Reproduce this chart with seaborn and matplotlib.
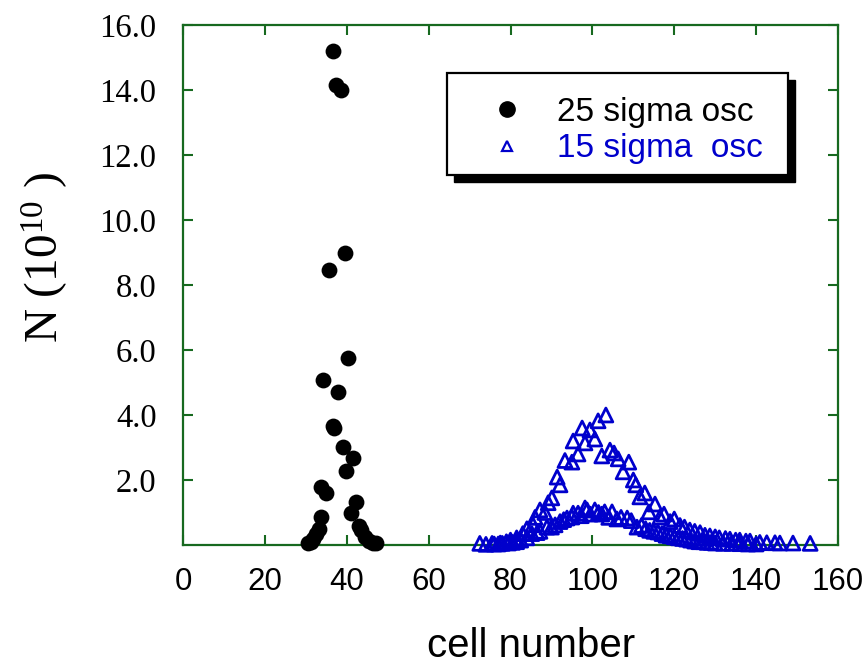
import matplotlib
matplotlib.use("Agg")
import matplotlib.pyplot as plt
import seaborn as sns
import pandas as pd
from matplotlib.lines import Line2D
from matplotlib.patches import Rectangle

# ---- data ----
cell_25 = [30.5, 31.2, 31.8, 32.5, 33.2, 33.7, 33.7, 34.9, 34.2, 35.7, 36.6, 37.4,
           38.6, 39.6, 40.3, 37.9, 36.6, 36.9, 39.1, 41.5, 39.8, 42.3, 41.0, 43.0,
           43.5, 44.5, 45.5, 46.5, 47.2]
n_25 = [0.05, 0.1, 0.2, 0.35, 0.5, 0.86, 1.78, 1.6, 5.08, 8.46, 15.2, 14.15,
        14.0, 8.98, 5.75, 4.71, 3.65, 3.6, 3.02, 2.68, 2.28, 1.32, 0.98, 0.6,
        0.45, 0.25, 0.12, 0.06, 0.05]

# upper branch of the 15 sigma data
cell_15a = [72.5, 75.5, 77.5, 79.0, 80.0, 81.5, 83.0, 84.0, 85.5, 86.0, 87.2, 88.4,
            89.2, 90.1, 91.4, 92.1, 93.3, 95.0, 95.3, 96.5, 97.5, 98.2, 99.4, 100.6,
            101.4, 102.3, 103.3, 104.3, 105.3, 106.3, 107.5, 108.9, 110.0, 110.6,
            111.6, 112.8, 113.8, 115.3, 116.5, 117.5, 119.0, 120.0, 121.4, 122.5,
            123.8, 125.0, 126.3, 127.5, 128.7, 130.0, 131.0, 132.5, 133.6, 135.0,
            136.0, 137.5, 138.5, 140.9, 142.6, 144.6, 145.8, 149.0, 153.2]
n_15a = [0.05, 0.05, 0.06, 0.1, 0.15, 0.22, 0.35, 0.5, 0.62, 0.85, 1.08, 1.0,
         1.3, 1.45, 2.09, 1.85, 2.6, 2.55, 3.2, 2.8, 3.6, 3.14, 3.54, 3.26,
         3.82, 2.74, 4.0, 2.92, 2.83, 2.65, 2.25, 2.55, 2.0, 1.85,
         1.48, 1.6, 1.02, 1.26, 0.86, 0.95, 0.72, 0.8, 0.6, 0.55,
         0.46, 0.42, 0.38, 0.3, 0.28, 0.25, 0.22, 0.2, 0.18, 0.15,
         0.15, 0.12, 0.12, 0.08, 0.07, 0.07, 0.06, 0.06, 0.05]

# lower branch of the 15 sigma data
cell_15b = [74.0, 76.0, 77.0, 78.0, 79.5, 80.5, 81.5, 82.5, 84.0, 85.2, 86.5, 87.2,
            88.9, 90.0, 90.9, 92.1, 93.0, 93.8, 95.0, 95.3, 96.5, 97.3, 98.2, 98.7,
            99.5, 100.6, 101.5, 102.3, 103.0, 104.0, 104.8, 106.0, 107.0, 108.5,
            109.5, 110.9, 112.0, 113.0, 114.0, 115.0, 116.0, 117.0, 118.0, 119.0,
            120.0, 121.0, 122.0, 123.0, 124.0, 125.0, 126.0, 127.0, 128.0, 129.0,
            130.0, 132.0, 134.0, 136.0, 138.0, 140.0]
n_15b = [0.02, 0.03, 0.03, 0.05, 0.06, 0.08, 0.1, 0.15, 0.22, 0.35, 0.38, 0.42,
         0.55, 0.55, 0.62, 0.72, 0.78, 0.83, 0.86, 0.98, 0.98, 0.9, 1.14, 1.08,
         0.95, 1.08, 1.0, 0.95, 1.02, 0.85, 1.02, 0.8, 0.85, 0.83,
         0.75, 0.55, 0.6, 0.5, 0.45, 0.42, 0.4, 0.35, 0.3, 0.28,
         0.25, 0.22, 0.2, 0.18, 0.15, 0.12, 0.1, 0.1, 0.08, 0.08,
         0.06, 0.05, 0.05, 0.04, 0.03, 0.03]

series_labels = ["25 sigma osc", "15 sigma  osc"]
x_ticks = [0, 20, 40, 60, 80, 100, 120, 140, 160]
y_ticks = [2, 4, 6, 8, 10, 12, 14, 16]

df25 = pd.DataFrame({"cell": cell_25, "N": n_25})
df15 = pd.DataFrame({"cell": cell_15a + cell_15b, "N": n_15a + n_15b})

# ---- style ----
sns.set_style("ticks")
plt.rcParams["font.family"] = ["Liberation Sans", "DejaVu Sans"]
plt.rcParams["mathtext.fontset"] = "custom"
plt.rcParams["mathtext.rm"] = "Liberation Serif"
plt.rcParams["mathtext.it"] = "Liberation Serif"

GREEN = "#17691f"
BLUE = "#0000CC"

fig = plt.figure(figsize=(8.68, 6.71), dpi=100)
ax = fig.add_axes([183 / 868, 1 - 545 / 671, 655 / 868, 520 / 671])

sns.scatterplot(data=df25, x="cell", y="N", ax=ax, color="black", marker="o",
                s=130, linewidth=0, edgecolor="black", clip_on=False, zorder=3)
sns.scatterplot(data=df15, x="cell", y="N", ax=ax, marker="^", s=100,
                facecolor="none", edgecolor=BLUE, linewidth=2.0,
                clip_on=False, zorder=3)

ax.set_xlim(0, 160)
ax.set_ylim(0, 16)
ax.set_xticks(x_ticks, labels=[str(v) for v in x_ticks],
              fontfamily="Liberation Sans", fontsize=22.5)
ax.set_yticks(y_ticks, labels=[f"{v:.1f}" for v in y_ticks],
              fontfamily="Liberation Serif", fontsize=23.5)
ax.tick_params(direction="in", length=7, width=1.5, color=GREEN,
               top=True, right=True, labelcolor="black")
ax.tick_params(axis="y", pad=19)
ax.tick_params(axis="x", pad=16)
for sp in ax.spines.values():
    sp.set_visible(True)
    sp.set_color(GREEN)
    sp.set_linewidth(1.6)

ax.set_xlabel("cell number", fontfamily="Liberation Sans", fontsize=29,
              color="black")
ax.xaxis.set_label_coords(0.531, -0.158)
ax.set_ylabel(r"N (10$^{10}$ )", fontfamily="Liberation Serif", fontsize=34,
              color="black")
ax.yaxis.set_label_coords(-0.172, 0.552)

# legend box with drop shadow
x0, x1 = (447 - 183) / 655, (788 - 183) / 655
y1, y0 = (545 - 73) / 520, (545 - 175) / 520
ax.add_patch(Rectangle((x0 + 7 / 655, y0 - 7 / 520), x1 - x0, y1 - y0,
                       transform=ax.transAxes, facecolor="black",
                       edgecolor="black", zorder=4, clip_on=False))
ax.add_patch(Rectangle((x0, y0), x1 - x0, y1 - y0, transform=ax.transAxes,
                       facecolor="white", edgecolor="black", linewidth=1.6,
                       zorder=4.5, clip_on=False))

handles = [
    Line2D([0], [0], marker="o", color="black", linestyle="none", markersize=11),
    Line2D([0], [0], marker="^", markerfacecolor="none", markeredgecolor=BLUE,
           markeredgewidth=1.6, linestyle="none", markersize=6.5),
]
leg = ax.legend(handles, series_labels, loc="center left",
                bbox_to_anchor=((490.5 - 183) / 655, (545 - 130.5) / 520),
                frameon=False, prop={"family": "Liberation Sans", "size": 24},
                handlelength=1.0, handletextpad=1.0, borderpad=0,
                borderaxespad=0, labelspacing=0.17)
leg.set_zorder(5)
for t, c in zip(leg.get_texts(), ["black", BLUE]):
    t.set_color(c)

fig.savefig("out.png", dpi=100)
